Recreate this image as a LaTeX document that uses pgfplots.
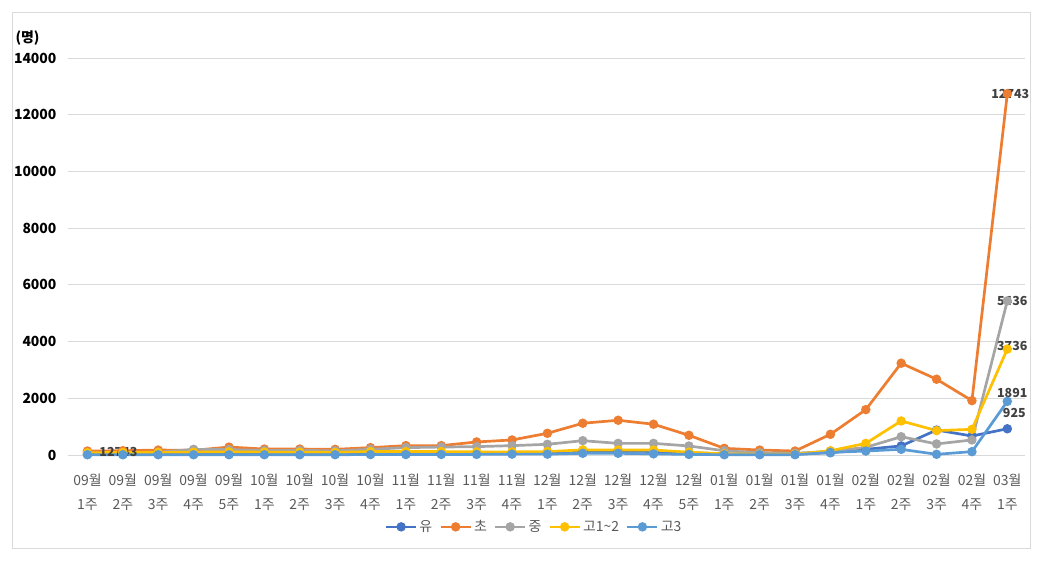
\documentclass[border=0pt]{standalone}
\usepackage{fontspec}
\setmainfont{Noto Sans CJK KR}
\usepackage{pgfplots}
\pgfplotsset{compat=1.18}
\definecolor{cYu}{HTML}{4472C4}
\definecolor{cCho}{HTML}{ED7D31}
\definecolor{cJung}{HTML}{A5A5A5}
\definecolor{cGo}{HTML}{FFC000}
\definecolor{cGoS}{HTML}{5B9BD5}
\definecolor{txt}{HTML}{595959}
\definecolor{lbl}{HTML}{404040}
\definecolor{gridc}{HTML}{D9D9D9}
\begin{document}
\begin{tikzpicture}[x=1bp,y=1bp]
\path (-68,-108) rectangle (975,455);
\draw[gridc, line width=0.8bp] (-56,-93) rectangle (962,443);
\node[font=\fontsize{14}{16}\selectfont\bfseries, anchor=west, text=black] at (-56,417) {(명)};
\begin{axis}[
  at={(0,0)}, anchor=south west,
  scale only axis, width=957bp, height=397bp,
  xmin=-0.55, xmax=26.5, ymin=0, ymax=14000,
  clip=false,
  axis line style={draw=none},
  tick style={draw=none},
  ytick={0,2000,...,14000},
  scaled y ticks=false,
  ymajorgrids, grid style={gridc, line width=0.9bp},
  yticklabel style={font=\fontsize{14}{15}\selectfont\bfseries, text=black, xshift=-8bp},
  /pgf/number format/.cd, 1000 sep={}, assume math mode=true, /pgfplots/.cd,
  xtick={0,...,26},
  xticklabels={{09월\\1주},{09월\\2주},{09월\\3주},{09월\\4주},{09월\\5주},{10월\\1주},{10월\\2주},{10월\\3주},{10월\\4주},{11월\\1주},{11월\\2주},{11월\\3주},{11월\\4주},{12월\\1주},{12월\\2주},{12월\\3주},{12월\\4주},{12월\\5주},{01월\\1주},{01월\\2주},{01월\\3주},{01월\\4주},{02월\\1주},{02월\\2주},{02월\\3주},{02월\\4주},{03월\\1주}},
  xticklabel style={align=center, font=\fontsize{14}{25}\selectfont, text=txt, yshift=-15bp},
  legend style={at={(axis description cs:0.487,-0.181)}, anchor=center, draw=none, fill=none,
    legend columns=-1, font=\fontsize{14}{16}\selectfont, text=txt,
    /tikz/every even column/.append style={column sep=5bp}},
  legend image code/.code={\draw[mark repeat=2,mark phase=2,#1] plot coordinates {(0bp,0bp) (15bp,0bp) (30bp,0bp)};},
  every axis plot/.append style={line width=2.7bp, mark=*, mark size=3.3bp, mark options={solid}},
]
\addplot[color=cYu] coordinates {(0,20)(1,20)(2,25)(3,25)(4,30)(5,30)(6,30)(7,35)(8,40)(9,50)(10,60)(11,60)(12,70)(13,90)(14,150)(15,150)(16,120)(17,80)(18,40)(19,30)(20,30)(21,80)(22,200)(23,320)(24,880)(25,670)(26,925)};
\addlegendentry{유}
\addplot[color=cCho] coordinates {(0,140)(1,150)(2,175)(3,165)(4,280)(5,210)(6,210)(7,200)(8,260)(9,330)(10,330)(11,460)(12,530)(13,765)(14,1120)(15,1225)(16,1085)(17,695)(18,235)(19,175)(20,140)(21,730)(22,1600)(23,3237)(24,2672)(25,1917)(26,12743)};
\addlegendentry{초}
\addplot[color=cJung] coordinates {(0,70)(1,80)(2,100)(3,200)(4,190)(5,160)(6,160)(7,150)(8,200)(9,260)(10,280)(11,295)(12,330)(13,377)(14,505)(15,410)(16,410)(17,318)(18,150)(19,80)(20,60)(21,130)(22,270)(23,645)(24,390)(25,530)(26,5436)};
\addlegendentry{중}
\addplot[color=cGo] coordinates {(0,80)(1,90)(2,90)(3,100)(4,110)(5,100)(6,100)(7,90)(8,120)(9,120)(10,120)(11,110)(12,110)(13,120)(14,180)(15,175)(16,175)(17,100)(18,40)(19,30)(20,30)(21,150)(22,410)(23,1200)(24,860)(25,905)(26,3736)};
\addlegendentry{고1\textasciitilde 2}
\addplot[color=cGoS] coordinates {(0,10)(1,10)(2,10)(3,10)(4,10)(5,10)(6,10)(7,10)(8,15)(9,15)(10,20)(11,20)(12,30)(13,30)(14,60)(15,60)(16,40)(17,20)(18,10)(19,10)(20,10)(21,90)(22,140)(23,200)(24,25)(25,118)(26,1891)};
\addlegendentry{고3}
\begin{scope}[every node/.style={font=\fontsize{12.5}{14}\selectfont\bfseries, text=lbl}]
\node at (axis cs:26,12743) [xshift=3bp] {12743};
\node at (axis cs:26,5436) [xshift=5bp] {5436};
\node at (axis cs:26,3736) [xshift=5bp, yshift=3bp] {3736};
\node at (axis cs:26,1891) [xshift=5bp, yshift=8bp] {1891};
\node at (axis cs:26,925) [xshift=7bp, yshift=16bp] {925};
\node at (axis cs:0.875,95) {12743};
\end{scope}
\end{axis}
\end{tikzpicture}
\end{document}
